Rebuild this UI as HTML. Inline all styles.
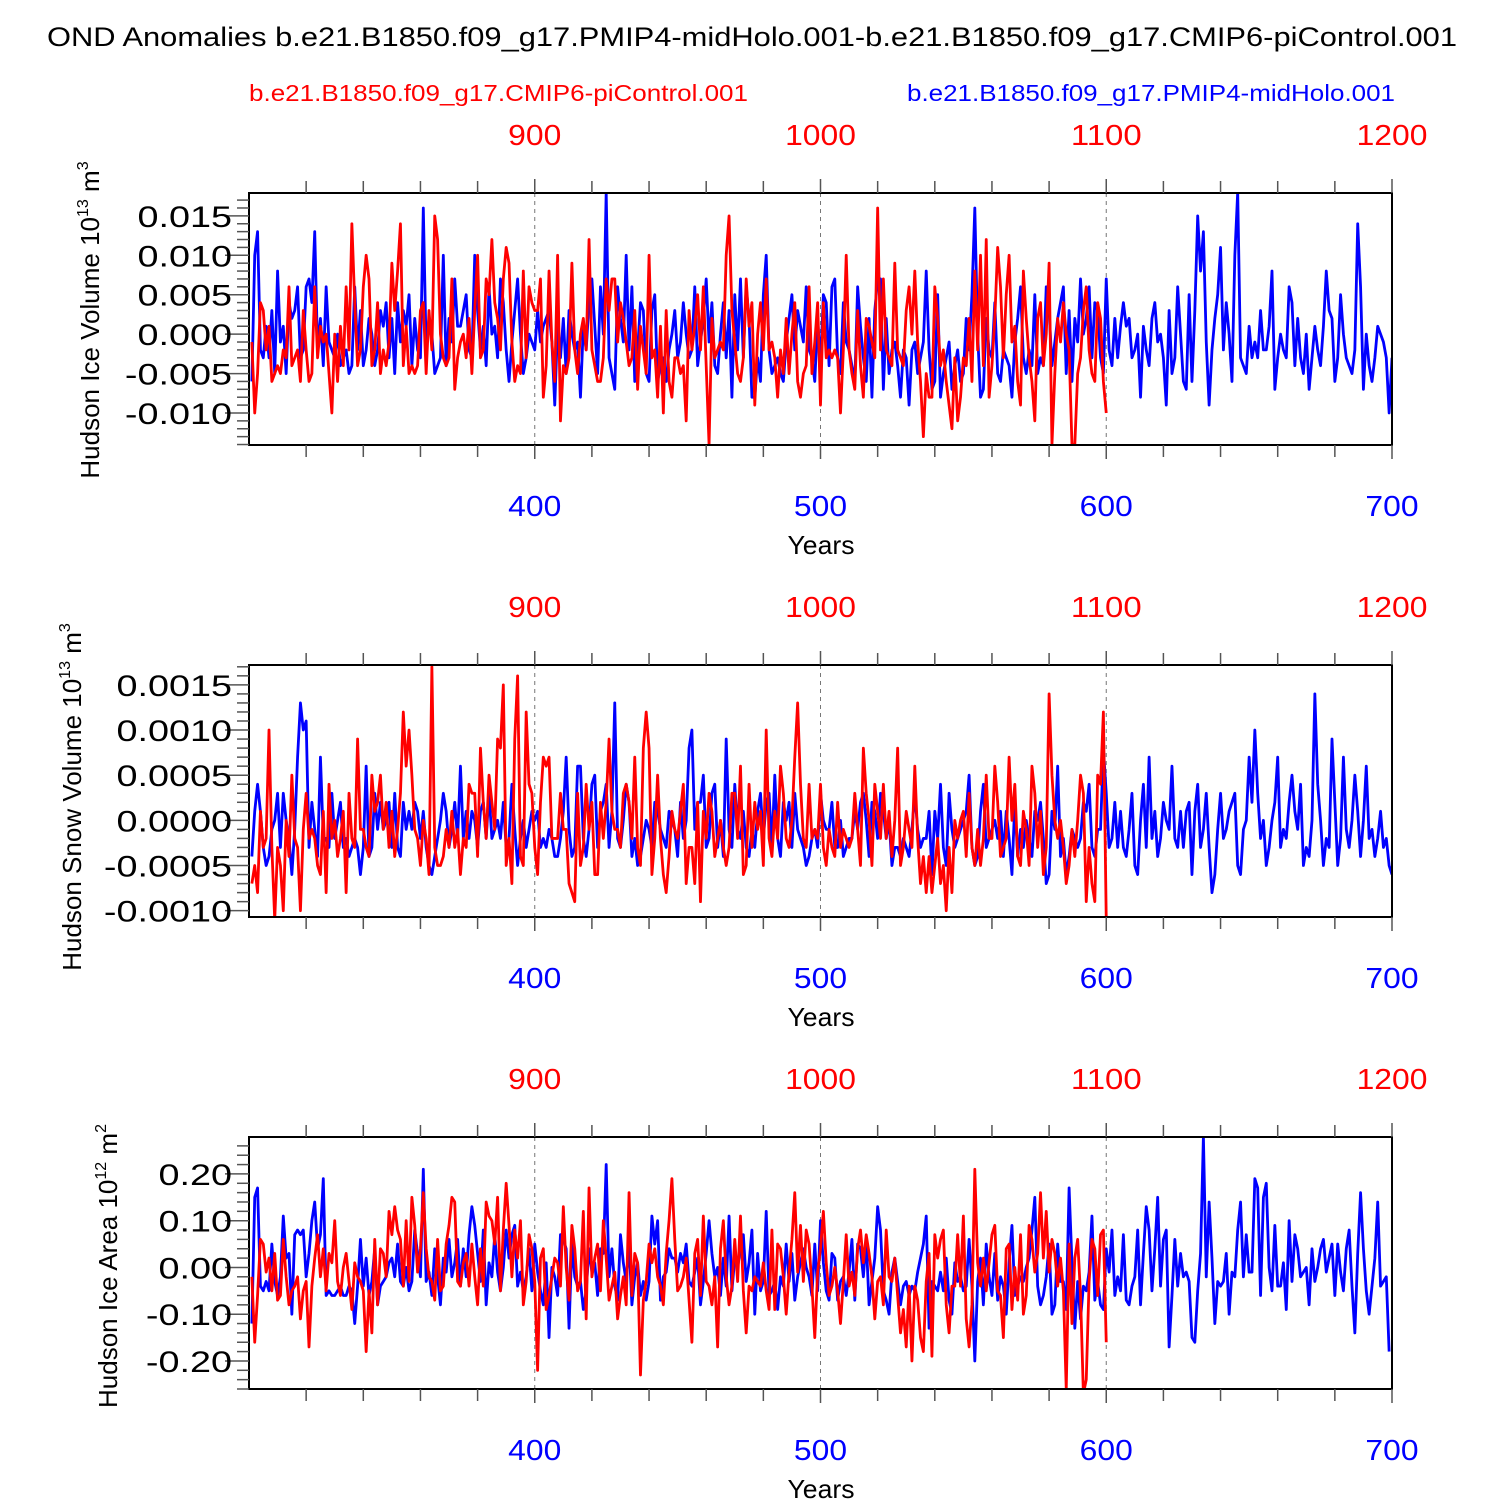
<!DOCTYPE html>
<html><head><meta charset="utf-8">
<style>
html,body{margin:0;padding:0;background:#fff;}
svg{display:block;font-family:"Liberation Sans",Arial,sans-serif;}
</style></head>
<body>
<svg id="chart" width="1500" height="1500" viewBox="0 0 1500 1500" xmlns="http://www.w3.org/2000/svg">
<text x="47" y="46" font-size="27" textLength="1410" lengthAdjust="spacingAndGlyphs">OND Anomalies b.e21.B1850.f09_g17.PMIP4-midHolo.001-b.e21.B1850.f09_g17.CMIP6-piControl.001</text>
<text x="249" y="101" font-size="23" fill="#ff0000" textLength="499" lengthAdjust="spacingAndGlyphs">b.e21.B1850.f09_g17.CMIP6-piControl.001</text>
<text x="907" y="101" font-size="23" fill="#0000ff" textLength="488" lengthAdjust="spacingAndGlyphs">b.e21.B1850.f09_g17.PMIP4-midHolo.001</text>
</svg>
<script>
const bottomTicks = [400, 500, 600, 700];
const topTicks = [900, 1000, 1100, 1200];
const panelYTicks1 = [-0.010, -0.005, 0.000, 0.005, 0.010, 0.015];
const panelYTickLabels1 = ["-0.010","-0.005","0.000","0.005","0.010","0.015"];
const panelYTicks2 = [-0.0010, -0.0005, 0.0000, 0.0005, 0.0010, 0.0015];
const panelYTickLabels2 = ["-0.0010","-0.0005","0.0000","0.0005","0.0010","0.0015"];
const panelYTicks3 = [-0.20, -0.10, 0.00, 0.10, 0.20];
const panelYTickLabels3 = ["-0.20","-0.10","0.00","0.10","0.20"];

const iceVolBlue = [-6,10,13,-2,-3,1,-3,3,-5,8,-1,1,-5,4,2,3,6,-3,-2,6,
7,4,13,-2,2,-4,6,-1,-2,-3,0,-4,-3,-2,-5,-4,6,-2,3,-4,
-2,2,0,-4,-2,3,1,4,-3,2,-5,4,-1,3,1,5,-4,2,-2,-3,
16,-2,2,0,-5,-4,-3,10,-4,2,-1,7,1,1,3,5,-2,-3,10,3,
-2,1,-4,6,0,1,-3,7,4,-2,-6,-1,3,7,0,-5,-3,0,-1,-2,
3,-1,1,2,3,-1,-9,1,-3,2,-5,3,0,-2,-1,-8,1,-2,4,7,
1,-5,6,0,18,-3,-5,-7,6,2,-1,10,-2,6,-6,-2,4,3,-5,-6,
3,5,-6,-4,-3,-6,-2,0,3,-3,-1,4,0,-3,-2,6,-4,-1,2,7,
-1,4,-4,-5,0,4,-3,3,-8,5,-2,7,-3,6,2,-8,-8,-3,-6,5,
10,-2,-5,-4,-3,-5,-6,-1,2,5,-2,3,1,-1,6,-2,-3,-6,2,-4,
5,4,-4,6,7,-3,-5,4,-1,-2,-4,-6,6,1,-3,-6,2,-8,3,7,
7,-7,2,-5,-2,-1,-4,-8,-2,-3,-9,-2,-1,-5,-3,-1,8,-2,-7,-6,
5,-8,-5,-3,-1,-7,-4,-2,-6,-5,2,-2,5,16,0,-8,-7,2,-2,-3,
4,-5,-6,-2,-3,-4,-8,-1,2,6,-3,-5,-2,-4,5,-5,-3,-4,6,3,
-4,-1,2,4,6,-5,3,-6,2,-1,7,0,2,6,-3,4,3,-3,-5,7,
-2,-4,2,-3,1,4,1,2,-3,-2,0,-8,1,-2,-4,2,4,-1,0,-3,
-9,3,-5,-3,6,0,-6,-7,5,-6,3,15,8,13,-1,-9,-2,2,5,11,
-2,4,0,-6,10,18,-3,-4,-5,1,-3,-1,-3,3,-2,-2,1,8,-7,-3,
0,-2,-3,6,4,-4,2,-3,-5,0,-7,-3,1,-2,-4,1,8,3,2,-6,
-3,5,0,-3,-4,-5,-2,14,6,-7,0,-4,-6,-3,1,0,-1,-3,-10,-3];
const iceVolRed = [-1,-10,-5,4,3,-2,1,-6,-5,-4,-5,-2,-3,6,-4,-3,-2,-6,3,-2,
-6,-5,6,-3,1,-1,0,-5,-10,0,-6,1,-4,6,-2,14,4,-4,-2,6,
10,7,-4,-2,4,-5,-2,-4,-1,9,3,8,14,-4,1,-5,-4,-5,-4,3,
4,-5,3,-2,15,12,0,-3,-4,-3,7,-7,-3,-1,0,-3,2,-5,3,10,
-3,-2,7,5,12,4,2,-2,7,11,9,-1,-6,-4,-5,8,-3,6,4,3,
3,7,-8,-4,8,-1,-6,10,-11,-4,-5,-3,9,-2,-5,0,2,-2,12,-2,
-4,-6,-6,-3,7,3,7,7,-1,4,2,-1,-4,-3,3,-7,1,-2,-5,10,
-3,-2,-8,1,-10,3,-6,-8,-3,-3,-5,-4,-11,3,-2,1,5,-2,6,-4,
-14,2,-3,-2,-1,-2,10,15,3,-1,-5,-6,-3,7,1,4,-9,0,4,-2,
7,-2,-1,-3,-8,-2,-5,2,-5,0,4,-6,-8,-5,-4,6,-5,-1,4,-9,
4,-3,-2,-3,-2,-3,-10,-2,10,-2,-5,-7,3,-4,-8,2,1,-1,-3,16,
-2,7,-2,-3,-4,9,-2,-3,-4,3,6,0,8,-1,-6,-13,-5,-8,-8,6,
2,-4,-2,-6,-9,-12,-3,-11,-8,-3,-4,2,-6,8,-2,10,-4,12,-8,-4,
2,11,6,-3,5,10,-1,1,-6,-9,8,2,-3,-6,-11,2,4,-4,0,9,
-14,-5,2,-1,4,0,-2,-14,-14,-5,-3,3,6,-2,-5,-6,4,2,-6,-10];

const snowVolBlue = [-4,1,4,1,-3,-5,-4,-1,0,3,-3,3,0,-2,-6,-1,7,13,10,11,
-3,2,-1,-4,7,-2,-2,-3,3,-2,0,2,-3,-2,-4,-3,-2,-3,-6,-3,
6,-4,-3,3,-1,2,-1,0,2,-3,3,-3,-4,2,-1,1,-1,2,1,-2,
1,-3,-5,-6,-4,-2,0,3,1,-3,-1,2,-2,6,-2,1,-2,1,0,-3,
1,2,-2,3,-2,-1,0,-2,2,-3,-2,4,-1,-5,-2,0,-3,-1,1,0,
1,-3,-2,-3,-1,-2,-4,-4,-2,1,7,-1,-4,-3,6,6,-2,-4,-1,4,
5,-3,1,2,4,-3,1,13,-2,-3,0,4,2,-4,-2,-5,-4,-2,0,-1,
-3,2,1,-1,-2,-3,1,0,-1,-4,2,-2,0,8,10,-1,2,2,5,-3,
-2,3,4,-3,0,-4,9,-1,-3,4,-1,-2,1,-3,-4,-1,-3,1,3,-2,
2,3,-3,5,-2,-4,2,0,2,-3,3,-1,-2,-3,-5,-4,-2,-1,-3,3,
0,-1,-1,2,-3,-3,0,-4,-3,-2,-2,1,-1,2,3,0,-4,2,1,-2,
3,1,-2,0,-5,-3,-3,-4,-2,-3,-4,-1,3,-1,-3,-2,-2,1,-6,1,
-2,4,-3,-5,3,-1,-3,-2,-1,0,1,5,-3,-5,-4,1,4,-3,-2,-1,
0,-2,1,-4,1,-2,-6,2,-4,-1,-3,0,-2,-4,1,0,2,-2,-7,-6,
1,-1,6,-4,-2,-6,-4,-1,-2,-3,-2,2,1,4,-3,-4,-1,-1,8,3,
-3,-2,2,-3,1,-3,-4,-1,3,-5,-6,0,4,-3,7,-2,1,-4,-2,2,
0,-1,6,-2,-3,1,-3,1,2,-6,1,4,-3,-1,3,-3,-8,-6,-1,3,
-2,-1,1,2,3,-5,-6,-1,0,7,2,10,3,-2,0,-5,-3,0,2,7,
-3,-1,-2,2,5,1,-1,4,-5,-3,-4,0,14,4,0,-5,-2,-3,9,2,
-5,-2,7,-1,-3,0,5,1,-4,0,6,-2,-1,-4,-2,1,-3,-2,-5,-6];
const snowVolRed = [-7,-5,-8,1,-3,-2,10,-3,-11,-3,-5,-10,0,-4,5,-2,-3,-10,-1,3,
-2,-1,-2,-5,-6,1,-8,4,-2,0,-4,-2,1,-8,3,-2,-3,9,-1,-1,
-3,-4,5,1,2,5,-1,2,-3,1,-4,-1,3,12,6,10,5,-1,-2,-5,
0,-2,-6,17,-3,-5,-5,-4,-1,-3,1,-3,-1,-6,-2,-3,4,3,3,-4,
8,2,-2,5,2,-1,9,8,15,-5,-2,-7,9,16,-4,-5,12,4,3,-3,
-6,2,7,6,7,-2,-2,-2,3,-1,-1,-7,-8,-9,3,-5,-3,4,-1,2,
-6,-6,2,-2,2,9,1,-1,-1,-3,3,4,2,-2,7,-3,-5,8,12,8,
-6,-2,5,-2,-6,-8,-4,1,-1,-2,1,4,-7,-3,-3,-7,2,-9,1,-2,
3,1,-4,-2,0,-3,-5,-3,3,3,-2,6,-6,-5,4,-3,2,-1,1,-5,
10,-2,-4,1,-2,6,3,-2,-3,0,7,13,4,-2,-3,4,-2,-1,-2,4,
-3,-5,-1,-3,-4,2,-3,-1,-2,-3,-2,3,-1,-5,8,3,0,-5,4,1,
-2,4,-2,1,-4,0,8,-5,-3,1,-1,-3,6,-2,-7,-4,-8,-4,-8,-5,
-2,-7,-5,-10,-3,-8,0,-2,0,1,-4,3,-3,-5,-1,-5,-2,5,-2,-2,
6,2,-4,-3,-2,7,0,4,-4,-5,1,-1,-5,6,3,-3,1,-6,-3,14,
5,0,-2,0,-3,-7,-5,-1,-4,0,5,3,-9,-3,-7,-9,5,4,12,-11];

const iceAreaBlue = [-12,15,17,-4,-5,-3,-5,5,-3,-6,-2,11,2,3,-10,7,8,7,8,-2,
3,10,14,4,7,19,-6,-5,-6,-6,-5,-4,-6,-6,-4,-5,-12,-4,6,-4,
2,-6,-3,4,-8,-4,-3,-2,1,2,-2,5,-3,-4,0,-5,-3,8,3,-2,
21,-3,-1,-6,4,-2,-8,2,-1,6,-2,1,6,-4,4,-2,7,13,9,3,
-3,8,-8,1,-2,7,-1,-5,0,8,2,7,9,-4,-1,-5,-2,4,-5,5,
-1,-5,-8,1,-15,0,-2,-6,7,6,4,-13,5,-2,-4,-3,-9,-5,4,-1,
1,-6,4,3,22,-2,4,-4,-7,7,1,-3,5,-8,-2,1,-6,-3,-7,-3,
11,5,10,-7,-2,-1,4,2,2,-1,3,1,5,-3,-4,-1,2,-8,-3,3,
10,3,-2,0,-6,2,-4,11,-5,2,0,4,7,-3,1,8,-10,3,-5,-3,
12,-6,-5,-3,-9,-2,-4,5,-3,3,-7,-2,1,4,0,-2,-6,5,-5,10,
1,-5,-7,3,2,-7,-3,-2,-6,-1,6,-7,5,4,-2,6,-8,-3,2,13,
8,-5,-7,-10,-1,2,-3,-8,-4,-3,-6,-4,-5,-1,2,5,11,-13,-3,-4,
-5,-1,-5,2,-7,-10,1,-3,-2,-5,-4,6,-4,-20,-3,2,-8,5,-2,-6,
3,-7,-2,-4,-10,1,9,-6,-4,-2,-3,0,2,8,15,-4,-8,-6,-2,5,
-10,-8,5,-3,-3,-9,17,1,-13,-3,-11,-4,-5,-1,11,-7,-3,-8,-9,4,
-1,8,-6,-2,-5,7,-7,-8,-4,-2,8,-8,3,13,8,-5,4,15,-4,6,
8,-17,-6,6,-4,3,-2,-1,-3,-15,-16,-5,3,28,-2,14,2,-12,-3,-4,
-3,3,-10,-1,-2,8,14,-2,7,-1,-1,19,17,-6,15,18,0,-5,9,-4,
-4,1,-9,10,-3,7,4,-2,-1,0,-8,4,-3,0,4,6,-1,2,5,-6,
5,-1,-5,4,8,-4,-14,3,16,4,-5,-10,-4,2,14,-4,-3,-2,-18];
const iceAreaRed = [-2,-16,-6,6,5,-1,2,-5,3,-7,-6,6,-2,-8,-5,-4,-2,-11,-5,-3,
-17,-4,2,7,-2,4,-5,3,1,10,-3,-6,0,3,-3,-9,1,-2,-3,-5,
-18,-5,-14,6,-8,4,3,-2,12,7,13,8,6,-4,10,-3,15,9,-1,4,
16,4,-2,-3,-7,6,-5,-4,5,9,15,14,-3,-4,1,3,-4,5,-2,-8,
4,-4,14,11,10,5,15,-5,8,18,9,-2,8,2,10,-8,-3,7,4,-3,
-22,2,4,-9,-6,-2,2,1,-4,13,0,-7,9,4,-5,-3,12,-11,17,-2,
2,5,-5,10,2,-7,-4,-1,-11,-6,-2,-8,16,-6,3,1,-23,-7,-3,5,
1,4,-2,-4,-8,3,10,19,6,-5,-4,-2,2,-7,-16,3,6,-6,11,-3,
-4,-8,-2,-17,4,10,-2,-8,-4,6,-3,11,-5,-14,-4,-5,-2,-3,-4,1,
-5,-9,8,-9,5,4,-2,-10,-1,6,16,-1,9,-3,8,5,-4,-15,-1,4,
12,1,-6,-4,0,-5,-12,-3,7,-4,-1,-6,4,8,1,7,3,-2,-11,-3,
-2,-8,8,-2,-3,2,-6,-14,-9,-17,-4,-20,-4,-7,-15,-18,-3,3,-19,7,
2,6,8,-8,-14,-4,-4,7,-4,11,-11,-17,-8,21,1,-4,2,-5,1,7,
9,-5,-6,-15,4,5,-9,0,-7,7,-10,-6,9,6,-1,3,16,2,12,-1,
6,3,-4,2,-5,-26,5,-12,2,6,-6,-27,-24,-3,6,4,-6,7,8,-16];

const NS = "http://www.w3.org/2000/svg";
const svg = document.getElementById("chart");
function el(tag, attrs, parent) {
  const e = document.createElementNS(NS, tag);
  for (const k in attrs) e.setAttribute(k, attrs[k]);
  (parent || svg).appendChild(e);
  return e;
}
function labelWidth(s, digitW) {
  let w = 0;
  for (const c of s) w += (c === '.') ? digitW * 0.5 : (c === '-') ? digitW * 0.6 : digitW;
  return w;
}
const X0 = 249, X1 = 1392, YR0 = 300, YR1 = 700;
function xScale(yr) { return X0 + (yr - YR0) / (YR1 - YR0) * (X1 - X0); }

function drawPanel(p) {
  const g = el("g", {});
  
  
  const top = p.top, bot = p.top + 252;
  const yScale = v => bot - (v - p.ymin) / (p.ymax - p.ymin) * (bot - top);
  const clipId = "clip-" + p.name;
  const cp = el("clipPath", {id: clipId}, g);
  el("rect", {x: X0, y: top, width: X1 - X0, height: bot - top}, cp);
  bottomTicks.slice(0, 3).forEach(t => {
    const l = el("line", {x1: xScale(t), x2: xScale(t), y1: top, y2: bot, stroke: "#777", "stroke-width": 1, "stroke-dasharray": "4,4"}, g);
    
    
  });
  function series(arr, start, color, nm) {
    const pts = arr.map((v, i) => xScale(start + i).toFixed(2) + "," + yScale(v * p.scale).toFixed(2)).join(" ");
    const pl = el("polyline", {points: pts, fill: "none", stroke: color, "stroke-width": 2.8, "stroke-linejoin": "round", "clip-path": "url(#" + clipId + ")"}, g);
    
    
  }
  series(p.blue, 301, "#0000ff", "midholo-line");
  series(p.red, 301, "#ff0000", "picontrol-line");
  const fr = el("rect", {x: X0, y: top, width: X1 - X0, height: bot - top, fill: "none", stroke: "#000", "stroke-width": 2}, g);
  
  
  for (let yr = 320; yr <= 700; yr += 20) {
    const x = xScale(yr), major = yr % 100 === 0, len = major ? 14 : 12;
    el("line", {x1: x, x2: x, y1: bot, y2: bot + len, stroke: "#555", "stroke-width": 1.5}, g);
    el("line", {x1: x, x2: x, y1: top, y2: top - len, stroke: "#555", "stroke-width": 1.5}, g);
  }
  bottomTicks.forEach(t => {
    const s = String(t);
    const tx = el("text", {x: xScale(t) - labelWidth(s, 17.7) / 2, y: bot + 71, "font-size": 29, fill: "#0000ff", textLength: labelWidth(s, 17.7), lengthAdjust: "spacingAndGlyphs"}, g);
    tx.textContent = s;
    
    
  });
  topTicks.forEach(t => {
    const s = String(t);
    const tx = el("text", {x: xScale(t - 500) - labelWidth(s, 17.7) / 2, y: top - 48, "font-size": 29, fill: "#ff0000", textLength: labelWidth(s, 17.7), lengthAdjust: "spacingAndGlyphs"}, g);
    tx.textContent = s;
    
    
  });
  const xt = el("text", {x: xScale(500) - 33, y: bot + 109, "font-size": 26, textLength: 67, lengthAdjust: "spacingAndGlyphs"}, g);
  xt.textContent = "Years";
  
  
  const step = (p.yticks[1] - p.yticks[0]) / 5;
  for (let v = p.yticks[0] - 5 * step; v <= p.ymax + 1e-12; v += step) {
    if (v < p.ymin - 1e-12) continue;
    const y = yScale(v);
    const isMajor = p.yticks.some(t => Math.abs(t - v) < step / 10);
    el("line", {x1: X0 - (isMajor ? 24 : 12), x2: X0, y1: y, y2: y, stroke: "#555", "stroke-width": 1.5}, g);
  }
  p.yticks.forEach((t, i) => {
    const s = p.ylabels[i];
    const w = labelWidth(s, 21);
    const tx = el("text", {x: 232 - w, y: yScale(t) + 11, "font-size": 30, textLength: w, lengthAdjust: "spacingAndGlyphs"}, g);
    tx.textContent = s;
    
    
  });
  const yt = el("text", {transform: "translate(" + p.titleX + "," + p.titleY + ") rotate(-90)", "font-size": 26, "text-anchor": "middle"}, g);
  
  
  yt.innerHTML = p.title + ' 10<tspan dy="-11" font-size="16">' + p.exp + '</tspan><tspan dy="11"> m</tspan><tspan dy="-11" font-size="16">' + p.unitExp + '</tspan>';
}

drawPanel({name: "ice-volume-panel", top: 193, ymin: -0.01406, ymax: 0.0179, scale: 0.001,
  yticks: panelYTicks1, ylabels: panelYTickLabels1, blue: iceVolBlue, red: iceVolRed,
  title: "Hudson Ice Volume", exp: "13", unitExp: "3", titleX: 99, titleY: 320});
drawPanel({name: "snow-volume-panel", top: 665, ymin: -0.00107, ymax: 0.00172, scale: 0.0001,
  yticks: panelYTicks2, ylabels: panelYTickLabels2, blue: snowVolBlue, red: snowVolRed,
  title: "Hudson Snow Volume", exp: "13", unitExp: "3", titleX: 81, titleY: 797});
drawPanel({name: "ice-area-panel", top: 1137, ymin: -0.26, ymax: 0.279, scale: 0.01,
  yticks: panelYTicks3, ylabels: panelYTickLabels3, blue: iceAreaBlue, red: iceAreaRed,
  title: "Hudson Ice Area", exp: "12", unitExp: "2", titleX: 117, titleY: 1266});
</script>
</body></html>
